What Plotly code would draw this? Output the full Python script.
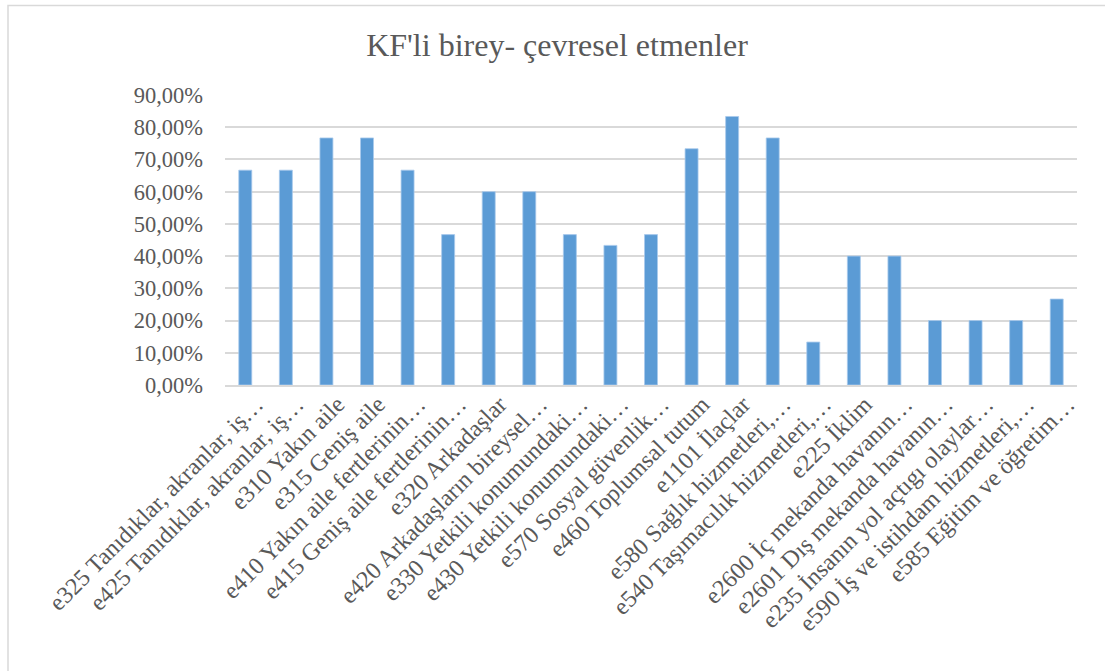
import plotly.graph_objects as go

# Environmental factors (ICF e-codes) and share of individuals with CF
categories = [
    "e325 Tanıdıklar, akranlar, iş…",
    "e425 Tanıdıklar, akranlar, iş…",
    "e310 Yakın aile",
    "e315 Geniş aile",
    "e410 Yakın aile fertlerinin…",
    "e415 Geniş aile fertlerinin…",
    "e320 Arkadaşlar",
    "e420 Arkadaşların bireysel…",
    "e330 Yetkili konumundaki…",
    "e430 Yetkili konumundaki…",
    "e570 Sosyal güvenlik…",
    "e460 Toplumsal tutum",
    "e1101 İlaçlar",
    "e580 Sağlık hizmetleri,…",
    "e540 Taşımacılık hizmetleri,…",
    "e225 İklim",
    "e2600 İç mekanda havanın…",
    "e2601 Dış mekanda havanın…",
    "e235 İnsanın yol açtıgı olaylar…",
    "e590 İş ve istihdam hizmetleri,…",
    "e585 Eğitim ve öğretim…",
]
values = [
    0.6667, 0.6667, 0.7667, 0.7667, 0.6667, 0.4667, 0.6000, 0.6000,
    0.4667, 0.4333, 0.4667, 0.7333, 0.8333, 0.7667, 0.1333, 0.4000,
    0.4000, 0.2000, 0.2000, 0.2000, 0.2667,
]
y_ticks = [0.0, 0.1, 0.2, 0.3, 0.4, 0.5, 0.6, 0.7, 0.8, 0.9]

title_text = "KF'li birey- çevresel etmenler"

FONT = "Liberation Serif, Times New Roman, serif"
TEXT = "#595959"
GRID = "#d9d9d9"

W, H = 1105, 671
ML, MR, MT, MB = 225, 28, 95, 286

fig = go.Figure(
    go.Bar(
        x=categories,
        y=values,
        marker=dict(color="#5b9bd5", line=dict(color="#a8c9ec", width=0.8)),
        hoverinfo="x+y",
    )
)

pw = W - ML - MR
ph = H - MT - MB


def px_x(v):
    return (v - ML) / pw


def px_y(v):
    return (H - MB - v) / ph


fig.update_layout(
    width=W,
    height=H,
    margin=dict(l=ML, r=MR, t=MT, b=MB, autoexpand=False),
    paper_bgcolor="white",
    plot_bgcolor="white",
    bargap=0.68,
    separators=",.",
    showlegend=False,
    font=dict(family=FONT, color=TEXT, size=23),
    title=dict(
        text=title_text,
        font=dict(family=FONT, color=TEXT, size=32),
        x=557 / W,
        xanchor="center",
        y=1 - 45 / H,
        yanchor="middle",
    ),
    xaxis=dict(
        type="category",
        tickangle=-45,
        tickfont=dict(family=FONT, color=TEXT, size=24),
        showgrid=False,
        showline=True,
        linecolor=GRID,
        linewidth=1.5,
        ticks="",
        ticklabelshift=11,
        ticklabelstandoff=-6,
        automargin=False,
    ),
    yaxis=dict(
        range=[0, 0.9],
        tickvals=y_ticks,
        tickformat=".2%",
        tickfont=dict(family=FONT, color=TEXT, size=22.5),
        showgrid=True,
        gridcolor=GRID,
        gridwidth=1.5,
        zeroline=False,
        showline=False,
        ticks="",
        ticklabelstandoff=21,
        automargin=False,
    ),
    shapes=[
        dict(
            type="rect",
            xref="paper",
            yref="paper",
            x0=px_x(8),
            y0=px_y(H + 10),
            x1=px_x(W + 10),
            y1=px_y(5.5),
            line=dict(color=GRID, width=1.5),
            fillcolor="rgba(0,0,0,0)",
            layer="below",
        )
    ],
)

fig.write_html("out.html")
